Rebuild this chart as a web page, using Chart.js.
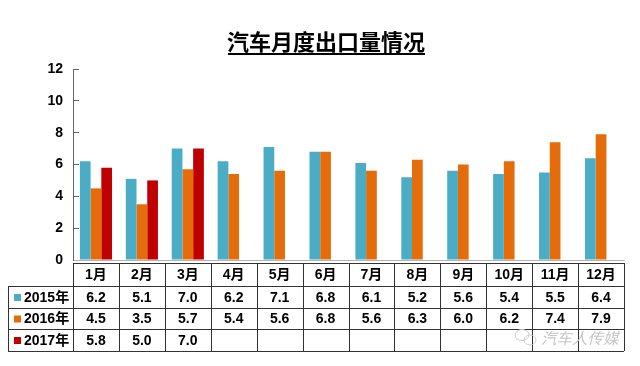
<!DOCTYPE html>
<html lang="zh">
<head>
<meta charset="utf-8">
<title>汽车月度出口量情况</title>
<script src="https://cdn.jsdelivr.net/npm/chart.js@4"></script>
<style>
  html, body { margin: 0; padding: 0; background: #fff; }
  #c { display: block; width: 640px; height: 366px; }
</style>
</head>
<body>
<canvas id="c" width="640" height="366"></canvas>
<script>
const chartTitle = '汽车月度出口量情况';
const months = ['1月', '2月', '3月', '4月', '5月', '6月', '7月', '8月', '9月', '10月', '11月', '12月'];
const yTicks = [0, 2, 4, 6, 8, 10, 12];
const seriesNames = ['2015年', '2016年', '2017年'];
const v2015 = [6.2, 5.1, 7.0, 6.2, 7.1, 6.8, 6.1, 5.2, 5.6, 5.4, 5.5, 6.4];
const v2016 = [4.5, 3.5, 5.7, 5.4, 5.6, 6.8, 5.6, 6.3, 6.0, 6.2, 7.4, 7.9];
const v2017 = [5.8, 5.0, 7.0, null, null, null, null, null, null, null, null, null];
const watermark = '汽车人传媒';

const colors = ['#4bacc6', '#e46c0a', '#c00000'];
const LATIN_CJK = '"Liberation Sans", "Noto Sans CJK SC", sans-serif';

/* table rows under the x axis, canvas px */
const rowLines = [263, 286, 308, 329, 351];
const tableLeft = 8;

/* title + underline */
const titlePlugin = {
  id: 'titleLine',
  afterDraw(chart) {
    const ctx = chart.ctx;
    ctx.save();
    ctx.font = 'bold 22px ' + LATIN_CJK;
    ctx.fillStyle = '#000';
    ctx.textAlign = 'center';
    ctx.textBaseline = 'middle';
    ctx.fillText(chartTitle, 326, 44);
    ctx.fillRect(228, 53, 197, 2);
    ctx.restore();
  }
};

/* data table aligned to the category scale */
const tablePlugin = {
  id: 'dataTable',
  afterDraw(chart) {
    const ctx = chart.ctx;
    const x = chart.scales.x;
    const step = x.getPixelForValue(1) - x.getPixelForValue(0);
    const rows = [v2015, v2016, v2017];
    const mid = (i) => (rowLines[i] + rowLines[i + 1]) / 2;

    ctx.save();
    ctx.strokeStyle = '#333';
    ctx.lineWidth = 1;
    ctx.beginPath();
    // header row starts at the axis, series rows start further left
    ctx.moveTo(x.left, rowLines[0] + 0.5);
    ctx.lineTo(x.right, rowLines[0] + 0.5);
    for (let i = 1; i < rowLines.length; i++) {
      ctx.moveTo(tableLeft, rowLines[i] + 0.5);
      ctx.lineTo(x.right, rowLines[i] + 0.5);
    }
    ctx.moveTo(tableLeft + 0.5, rowLines[1]);
    ctx.lineTo(tableLeft + 0.5, rowLines[4]);
    months.forEach((m, i) => {
      const px = Math.round(x.getPixelForValue(i) - step / 2) + 0.5;
      ctx.moveTo(px, rowLines[0]);
      ctx.lineTo(px, rowLines[4]);
    });
    ctx.moveTo(Math.round(x.right) + 0.5, rowLines[0]);
    ctx.lineTo(Math.round(x.right) + 0.5, rowLines[4]);
    ctx.stroke();

    ctx.fillStyle = '#000';
    ctx.font = 'bold 14px ' + LATIN_CJK;
    ctx.textAlign = 'center';
    ctx.textBaseline = 'middle';
    months.forEach((m, i) => {
      ctx.fillText(m, x.getPixelForValue(i), mid(0) + 1);
      rows.forEach((r, j) => {
        if (r[i] !== null) ctx.fillText(r[i].toFixed(1), x.getPixelForValue(i), mid(j + 1) + 1);
      });
    });

    ctx.textAlign = 'left';
    seriesNames.forEach((name, j) => {
      ctx.fillStyle = colors[j];
      ctx.fillRect(14, mid(j + 1) - 3, 7, 7);
      ctx.fillStyle = '#000';
      ctx.fillText(name, 24, mid(j + 1) + 1);
    });
    ctx.restore();
  }
};

/* faded WeChat-style mark in the corner */
const watermarkPlugin = {
  id: 'watermark',
  afterDraw(chart) {
    const ctx = chart.ctx;
    ctx.save();
    ctx.strokeStyle = '#cccccc';
    ctx.lineWidth = 1;
    ctx.beginPath();
    ctx.ellipse(522, 335, 7, 5.5, 0, 0, Math.PI * 2);
    ctx.stroke();
    ctx.beginPath();
    ctx.ellipse(530, 340, 6, 5, 0, 0, Math.PI * 2);
    ctx.stroke();
    ctx.fillStyle = '#c6c6c6';
    ctx.font = 'italic 15.5px "Noto Sans CJK SC", sans-serif';
    ctx.textBaseline = 'middle';
    ctx.fillText(watermark, 541, 338);
    ctx.restore();
  }
};

new Chart(document.getElementById('c'), {
  type: 'bar',
  data: {
    labels: months,
    datasets: [
      { label: seriesNames[0], data: v2015, backgroundColor: colors[0] },
      { label: seriesNames[1], data: v2016, backgroundColor: colors[1] },
      { label: seriesNames[2], data: v2017, backgroundColor: colors[2] }
    ]
  },
  options: {
    responsive: false,
    animation: false,
    layout: { padding: { top: 69, right: 16, bottom: 105, left: 0 } },
    datasets: { bar: { barPercentage: 1, categoryPercentage: 0.7 } },
    plugins: { legend: { display: false }, tooltip: { enabled: false } },
    scales: {
      x: {
        grid: { display: false },
        border: { color: '#b0b0b0', width: 1 },
        ticks: { display: false },
        afterFit: (s) => { s.height = 1; }
      },
      y: {
        min: 0,
        max: 12,
        afterFit: (s) => { s.width = 73; },
        afterBuildTicks: (s) => { s.ticks = yTicks.map((v) => ({ value: v })); },
        border: { color: '#666', width: 1 },
        grid: { drawOnChartArea: false, drawTicks: true, tickLength: -6, color: '#666' },
        ticks: {
          color: '#000',
          padding: 16,
          font: { family: LATIN_CJK, size: 14, weight: 'bold' }
        }
      }
    }
  },
  plugins: [titlePlugin, tablePlugin, watermarkPlugin]
});
</script>
</body>
</html>
